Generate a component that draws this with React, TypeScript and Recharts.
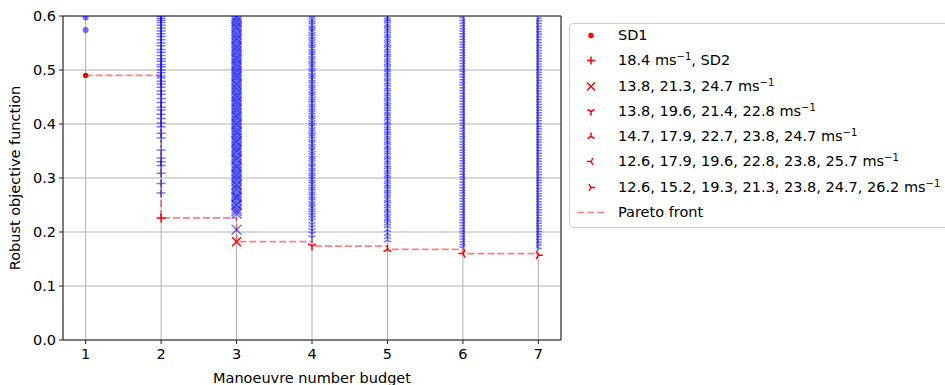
import React from 'react'
import {
  ComposedChart,
  Scatter,
  Line,
  XAxis,
  YAxis,
  CartesianGrid,
  ReferenceLine,
  Label,
} from 'recharts'

const budgets = [1, 2, 3, 4, 5, 6, 7]
const xTicks = [1, 2, 3, 4, 5, 6, 7]
const yTicks = [0, 0.1, 0.2, 0.3, 0.4, 0.5, 0.6]

// robust objective of every candidate, per manoeuvre budget
const budget1 = [0.597, 0.574]
const budget2 = [
  0.272, 0.29, 0.309, 0.323, 0.33, 0.337, 0.352, 0.374, 0.383, 0.395, 0.402, 0.41, 0.418, 0.426,
  0.431, 0.44, 0.447, 0.455, 0.461, 0.468, 0.474, 0.479, 0.485, 0.489, 0.495, 0.5, 0.506, 0.51,
  0.516, 0.521, 0.527, 0.533, 0.538, 0.545, 0.55, 0.556, 0.562, 0.567, 0.572, 0.578, 0.583,
  0.588, 0.592, 0.596, 0.6,
]
const budget3 = [
  0.204, 0.234, 0.239, 0.243, 0.249, 0.252, 0.258, 0.263, 0.266, 0.271, 0.277, 0.281, 0.286,
  0.289, 0.295, 0.299, 0.304, 0.308, 0.313, 0.318, 0.322, 0.327, 0.333, 0.336, 0.341, 0.347,
  0.351, 0.355, 0.36, 0.366, 0.369, 0.374, 0.379, 0.384, 0.388, 0.393, 0.398, 0.402, 0.407,
  0.412, 0.416, 0.421, 0.426, 0.43, 0.435, 0.44, 0.444, 0.449, 0.453, 0.458, 0.463, 0.467,
  0.472, 0.476, 0.481, 0.486, 0.49, 0.495, 0.499, 0.504, 0.509, 0.513, 0.518, 0.522, 0.527,
  0.532, 0.536, 0.541, 0.545, 0.55, 0.555, 0.559, 0.564, 0.568, 0.573, 0.578, 0.582, 0.587,
  0.591, 0.596, 0.6,
]
const budget4 = [
  0.19, 0.197, 0.203, 0.209, 0.214, 0.221, 0.226, 0.231, 0.236, 0.24, 0.245, 0.249, 0.253,
  0.258, 0.262, 0.267, 0.271, 0.276, 0.28, 0.284, 0.289, 0.293, 0.298, 0.302, 0.306, 0.311,
  0.315, 0.32, 0.324, 0.329, 0.333, 0.337, 0.342, 0.346, 0.351, 0.355, 0.359, 0.364, 0.368,
  0.373, 0.377, 0.381, 0.386, 0.39, 0.395, 0.399, 0.403, 0.408, 0.412, 0.417, 0.421, 0.425,
  0.43, 0.434, 0.439, 0.443, 0.447, 0.452, 0.456, 0.461, 0.465, 0.469, 0.474, 0.478, 0.483,
  0.487, 0.491, 0.496, 0.5, 0.505, 0.509, 0.513, 0.518, 0.522, 0.527, 0.531, 0.535, 0.54,
  0.544, 0.549, 0.553, 0.557, 0.562, 0.566, 0.571, 0.575, 0.579, 0.584, 0.588, 0.593, 0.597,
]
const budget5 = [
  0.185, 0.191, 0.197, 0.204, 0.211, 0.216, 0.221, 0.225, 0.23, 0.234, 0.239, 0.243, 0.248,
  0.252, 0.257, 0.261, 0.266, 0.27, 0.275, 0.279, 0.284, 0.288, 0.293, 0.297, 0.302, 0.306,
  0.311, 0.315, 0.32, 0.324, 0.329, 0.333, 0.338, 0.342, 0.347, 0.351, 0.356, 0.36, 0.365,
  0.369, 0.374, 0.378, 0.383, 0.387, 0.392, 0.396, 0.401, 0.405, 0.41, 0.414, 0.419, 0.423,
  0.428, 0.432, 0.437, 0.441, 0.446, 0.45, 0.455, 0.459, 0.464, 0.468, 0.473, 0.477, 0.482,
  0.486, 0.491, 0.495, 0.5, 0.504, 0.509, 0.513, 0.518, 0.522, 0.527, 0.531, 0.536, 0.54,
  0.545, 0.549, 0.554, 0.558, 0.563, 0.567, 0.572, 0.576, 0.581, 0.585, 0.59, 0.594, 0.598,
]
const budget6 = [
  0.172, 0.177, 0.182, 0.187, 0.192, 0.197, 0.202, 0.207, 0.212, 0.217, 0.222, 0.227, 0.232,
  0.237, 0.242, 0.247, 0.252, 0.257, 0.262, 0.267, 0.272, 0.277, 0.282, 0.287, 0.292, 0.297,
  0.302, 0.307, 0.312, 0.317, 0.322, 0.327, 0.332, 0.337, 0.342, 0.347, 0.352, 0.357, 0.362,
  0.367, 0.372, 0.377, 0.382, 0.387, 0.392, 0.397, 0.402, 0.407, 0.412, 0.417, 0.422, 0.427,
  0.432, 0.437, 0.442, 0.447, 0.452, 0.457, 0.462, 0.467, 0.472, 0.477, 0.482, 0.487, 0.492,
  0.497, 0.502, 0.507, 0.512, 0.517, 0.522, 0.527, 0.532, 0.537, 0.542, 0.547, 0.552, 0.557,
  0.562, 0.567, 0.572, 0.577, 0.582, 0.587, 0.592, 0.597,
]
const budget7 = [
  0.17, 0.176, 0.181, 0.186, 0.191, 0.196, 0.201, 0.206, 0.211, 0.216, 0.221, 0.226, 0.231,
  0.236, 0.241, 0.246, 0.251, 0.256, 0.261, 0.266, 0.271, 0.276, 0.281, 0.286, 0.291, 0.296,
  0.301, 0.306, 0.311, 0.316, 0.321, 0.326, 0.331, 0.336, 0.341, 0.346, 0.351, 0.356, 0.361,
  0.366, 0.371, 0.376, 0.381, 0.386, 0.391, 0.396, 0.401, 0.406, 0.411, 0.416, 0.421, 0.426,
  0.431, 0.436, 0.441, 0.446, 0.451, 0.456, 0.461, 0.466, 0.471, 0.476, 0.481, 0.486, 0.491,
  0.496, 0.501, 0.506, 0.511, 0.516, 0.521, 0.526, 0.531, 0.536, 0.541, 0.546, 0.551, 0.556,
  0.561, 0.566, 0.571, 0.576, 0.581, 0.586, 0.591, 0.596,
]
const candidates = [budget1, budget2, budget3, budget4, budget5, budget6, budget7]

// best (pareto) value per budget
const paretoValues = [0.49, 0.226, 0.182, 0.174, 0.168, 0.16, 0.157]

const legendSpeeds = [
  null,
  ['18.4'],
  ['13.8', '21.3', '24.7'],
  ['13.8', '19.6', '21.4', '22.8'],
  ['14.7', '17.9', '22.7', '23.8', '24.7'],
  ['12.6', '17.9', '19.6', '22.8', '23.8', '25.7'],
  ['12.6', '15.2', '19.3', '21.3', '23.8', '24.7', '26.2'],
]

const markers = ['circle', 'plus', 'x', 'triDown', 'triUp', 'triLeft', 'triRight']

const FONT = '"DejaVu Sans", sans-serif'
const FS = 14.5
const BLUE = '#0000ff'
const RED = '#ff0000'

function markerPath(kind: string, cx: number, cy: number, s: number) {
  const h = s * 0.87
  const q = s * 0.5
  switch (kind) {
    case 'plus':
      return `M${cx - s},${cy}H${cx + s}M${cx},${cy - s}V${cy + s}`
    case 'x':
      return `M${cx - s},${cy - s}L${cx + s},${cy + s}M${cx - s},${cy + s}L${cx + s},${cy - s}`
    case 'triDown':
      return `M${cx},${cy}V${cy + s}M${cx},${cy}L${cx - h},${cy - q}M${cx},${cy}L${cx + h},${cy - q}`
    case 'triUp':
      return `M${cx},${cy}V${cy - s}M${cx},${cy}L${cx - h},${cy + q}M${cx},${cy}L${cx + h},${cy + q}`
    case 'triLeft':
      return `M${cx},${cy}H${cx - s}M${cx},${cy}L${cx + q},${cy - h}M${cx},${cy}L${cx + q},${cy + h}`
    case 'triRight':
      return `M${cx},${cy}H${cx + s}M${cx},${cy}L${cx - q},${cy - h}M${cx},${cy}L${cx - q},${cy + h}`
    default:
      return ''
  }
}

function Marker({ kind, cx, cy, color, opacity, size }: any) {
  if (cx == null || cy == null) return null
  if (kind === 'circle') {
    return <circle cx={cx} cy={cy} r={size * 0.75} fill={color} fillOpacity={opacity} />
  }
  return (
    <path
      d={markerPath(kind, cx, cy, size)}
      stroke={color}
      strokeOpacity={opacity}
      strokeWidth={1.5}
      fill="none"
    />
  )
}

const blueSize = [4, 4.5, 5, 4, 4, 3.5, 3.5]

const Sup = () => (
  <sup style={{ fontSize: 10, verticalAlign: 'top', position: 'relative', top: -4 }}>−1</sup>
)

function legendLabel(i: number) {
  if (i === 0) return <span>SD1</span>
  const sp = legendSpeeds[i] as string[]
  if (i === 1)
    return (
      <span>
        {sp[0]} ms<Sup />, SD2
      </span>
    )
  return (
    <span>
      {sp.join(', ')} ms<Sup />
    </span>
  )
}

function PlotLegend() {
  return (
    <div
      style={{
        position: 'absolute',
        left: 569,
        top: 23,
        width: 420,
        height: 203,
        border: '1px solid #d0d0d0',
        borderRadius: 4,
        background: '#fff',
        fontFamily: FONT,
        fontSize: FS,
        color: '#000',
      }}
    >
      {markers.map((m, i) => (
        <div key={m} style={{ position: 'relative', height: 25.3, lineHeight: '23px' }}>
          <svg width={30} height={25} style={{ position: 'absolute', left: 6, top: -1 }}>
            <Marker kind={m} cx={15} cy={12.5} color={RED} opacity={1} size={i === 0 ? 3.6 : 4} />
          </svg>
          <div style={{ position: 'absolute', left: 48, top: 0, whiteSpace: 'nowrap' }}>
            {legendLabel(i)}
          </div>
        </div>
      ))}
      <div style={{ position: 'relative', height: 25.3, lineHeight: '23px' }}>
        <svg width={36} height={25} style={{ position: 'absolute', left: 6, top: -1 }}>
          <line x1={1} x2={31} y1={12.5} y2={12.5} stroke={RED} strokeOpacity={0.5} strokeWidth={1.6} strokeDasharray="7 3" />
        </svg>
        <div style={{ position: 'absolute', left: 48, top: 0 }}>Pareto front</div>
      </div>
    </div>
  )
}

export default function App() {
  const paretoData = budgets.map((b, i) => ({ x: b, y: paretoValues[i] }))
  const tick = { fontSize: FS, fill: '#000', fontFamily: FONT }

  return (
    <div
      style={{
        position: 'absolute',
        left: 0,
        top: 0,
        width: 945,
        height: 385,
        overflow: 'hidden',
        background: '#fff',
        fontFamily: FONT,
      }}
    >
      <ComposedChart
        width={945}
        height={385}
        data={paretoData}
        margin={{ top: 16, right: 384, bottom: 0, left: 20 }}
      >
        <CartesianGrid stroke="#b0b0b0" strokeWidth={1} />
        <XAxis
          type="number"
          dataKey="x"
          domain={[0.7, 7.3]}
          ticks={xTicks}
          allowDataOverflow
          height={45}
          tick={tick}
          tickSize={4}
          tickMargin={5}
          stroke="#222"
          tickLine={{ stroke: '#222' }}
        >
          <Label
            value="Manoeuvre number budget"
            position="insideBottom"
            offset={2}
            style={{ fontSize: FS, fill: '#000', fontFamily: FONT }}
          />
        </XAxis>
        <YAxis
          type="number"
          domain={[0, 0.6]}
          ticks={yTicks}
          allowDataOverflow
          width={43}
          tick={tick}
          tickSize={4}
          tickMargin={3}
          tickFormatter={(v: number) => v.toFixed(1)}
          stroke="#222"
          tickLine={{ stroke: '#222' }}
        >
          <Label
            value="Robust objective function"
            angle={-90}
            position="insideLeft"
            offset={-5}
            style={{ fontSize: FS, fill: '#000', fontFamily: FONT, textAnchor: 'middle' }}
          />
        </YAxis>
        {candidates.map((vals, i) => (
          <Scatter
            key={'c' + i}
            data={vals.map((v) => ({ x: budgets[i], y: v }))}
            dataKey="y"
            isAnimationActive={false}
            shape={(p: any) => (
              <Marker kind={markers[i]} cx={p.cx} cy={p.cy} color={BLUE} opacity={0.55} size={blueSize[i]} />
            )}
          />
        ))}
        <Line
          dataKey="y"
          type="stepAfter"
          stroke={RED}
          strokeOpacity={0.5}
          strokeWidth={1.7}
          strokeDasharray="7 3"
          dot={false}
          activeDot={false}
          isAnimationActive={false}
        />
        {budgets.map((b, i) => (
          <Scatter
            key={'p' + i}
            data={[{ x: b, y: paretoValues[i] }]}
            dataKey="y"
            isAnimationActive={false}
            shape={(p: any) => (
              <Marker kind={markers[i]} cx={p.cx} cy={p.cy} color={RED} opacity={1} size={i === 0 ? 3.6 : 4.5} />
            )}
          />
        ))}
        <ReferenceLine y={0.6} stroke="#222" strokeWidth={1} />
        <ReferenceLine x={7.3} stroke="#222" strokeWidth={1} />
      </ComposedChart>
      <PlotLegend />
    </div>
  )
}
